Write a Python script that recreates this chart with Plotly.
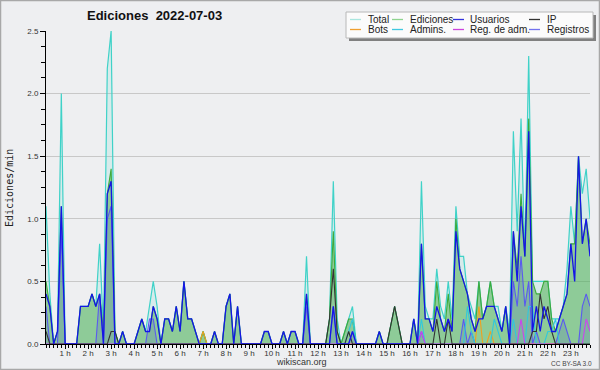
import plotly.graph_objects as go

# --- time grid (10-minute bins, minutes after midnight) ---
minutes = list(range(10, 1440, 10))
hour_ticks = list(range(60, 1440, 60))
hour_labels = [f"{h} h" for h in range(1, 24)]

# --- series values (edits per minute), one row per hour ---
total = [
    1.1, 0.4, 0.0, 0.1, 2.0,
    0.0, 0.0, 0.0, 0.0, 0.3, 0.3,
    0.3, 0.4, 0.3, 0.8, 0.1, 2.2,
    2.5, 0.1, 0.0, 0.1, 0.0, 0.0,
    0.0, 0.1, 0.2, 0.1, 0.3, 0.5,
    0.3, 0.0, 0.2, 0.2, 0.1, 0.3,
    0.1, 0.5, 0.2, 0.2, 0.1, 0.0,
    0.1, 0.0, 0.0, 0.1, 0.0, 0.0,
    0.3, 0.4, 0.0, 0.3, 0.0, 0.0,
    0.0, 0.0, 0.0, 0.0, 0.1, 0.1,
    0.0, 0.0, 0.0, 0.1, 0.0, 0.1,
    0.1, 0.0, 0.0, 0.7, 0.0, 0.0,
    0.0, 0.0, 0.0, 0.2, 1.3, 0.2,
    0.0, 0.1, 0.2, 0.3, 0.0, 0.0,
    0.0, 0.0, 0.0, 0.0, 0.1, 0.0,
    0.0, 0.15, 0.3, 0.15, 0.0, 0.0,
    0.0, 0.2, 0.0, 1.3, 0.3, 0.2,
    0.2, 0.6, 0.3, 0.2, 0.5, 0.2,
    1.1, 0.7, 0.7, 0.4, 0.3, 0.2,
    0.5, 0.2, 0.3, 0.5, 0.3, 0.3,
    0.1, 0.3, 0.1, 1.7, 0.9, 1.8,
    0.7, 2.3, 0.5, 0.5, 0.5, 0.5,
    0.5, 0.2, 0.2, 0.2, 0.3, 0.6,
    1.1, 0.8, 1.5, 1.2, 1.4, 1.0,
]
ediciones = [
    0.5, 0.3, 0.0, 0.1, 1.1,
    0.0, 0.0, 0.0, 0.0, 0.3, 0.3,
    0.3, 0.4, 0.3, 0.4, 0.1, 1.2,
    1.4, 0.1, 0.0, 0.1, 0.0, 0.0,
    0.0, 0.1, 0.2, 0.1, 0.1, 0.3,
    0.2, 0.0, 0.2, 0.2, 0.1, 0.3,
    0.1, 0.5, 0.2, 0.2, 0.1, 0.0,
    0.1, 0.0, 0.0, 0.1, 0.0, 0.0,
    0.3, 0.4, 0.0, 0.3, 0.0, 0.0,
    0.0, 0.0, 0.0, 0.0, 0.1, 0.1,
    0.0, 0.0, 0.0, 0.1, 0.0, 0.1,
    0.1, 0.0, 0.0, 0.4, 0.0, 0.0,
    0.0, 0.0, 0.0, 0.2, 0.9, 0.1,
    0.0, 0.1, 0.2, 0.2, 0.0, 0.0,
    0.0, 0.0, 0.0, 0.0, 0.1, 0.0,
    0.0, 0.15, 0.3, 0.15, 0.0, 0.0,
    0.0, 0.2, 0.0, 0.8, 0.2, 0.2,
    0.1, 0.5, 0.2, 0.1, 0.4, 0.1,
    1.0, 0.6, 0.5, 0.4, 0.2, 0.1,
    0.5, 0.2, 0.3, 0.5, 0.3, 0.2,
    0.1, 0.3, 0.0, 0.9, 0.6, 1.2,
    0.7, 1.8, 0.5, 0.4, 0.4, 0.5,
    0.5, 0.2, 0.1, 0.2, 0.3, 0.4,
    0.8, 0.8, 1.5, 0.8, 1.0, 0.8,
]
usuarios = [
    0.4, 0.3, 0.0, 0.1, 1.1,
    0.0, 0.0, 0.0, 0.0, 0.3, 0.3,
    0.3, 0.4, 0.3, 0.4, 0.0, 1.2,
    1.3, 0.0, 0.0, 0.1, 0.0, 0.0,
    0.0, 0.1, 0.2, 0.1, 0.1, 0.3,
    0.2, 0.0, 0.2, 0.2, 0.1, 0.3,
    0.1, 0.5, 0.2, 0.2, 0.1, 0.0,
    0.0, 0.0, 0.0, 0.1, 0.0, 0.0,
    0.3, 0.4, 0.0, 0.3, 0.0, 0.0,
    0.0, 0.0, 0.0, 0.0, 0.1, 0.1,
    0.0, 0.0, 0.0, 0.1, 0.0, 0.1,
    0.1, 0.0, 0.0, 0.4, 0.0, 0.0,
    0.0, 0.0, 0.0, 0.0, 0.3, 0.0,
    0.0, 0.0, 0.0, 0.1, 0.0, 0.0,
    0.0, 0.0, 0.0, 0.0, 0.1, 0.0,
    0.0, 0.0, 0.0, 0.0, 0.0, 0.0,
    0.0, 0.2, 0.0, 0.8, 0.2, 0.2,
    0.1, 0.3, 0.2, 0.1, 0.2, 0.1,
    0.9, 0.6, 0.5, 0.4, 0.2, 0.1,
    0.2, 0.2, 0.3, 0.3, 0.3, 0.2,
    0.1, 0.3, 0.0, 0.9, 0.5, 1.1,
    0.7, 1.7, 0.1, 0.3, 0.1, 0.3,
    0.2, 0.1, 0.1, 0.2, 0.3, 0.4,
    0.8, 0.5, 1.5, 0.8, 1.0, 0.7,
]
# sparse series: minute -> value (all other bins are 0)
ip = {10: 0.1, 180: 0.1, 190: 0.1, 750: 0.2, 760: 0.6, 770: 0.1, 800: 0.1,
      910: 0.15, 920: 0.3, 930: 0.15, 1030: 0.2, 1060: 0.2,
      1280: 0.1, 1290: 0.1, 1300: 0.4, 1310: 0.2, 1320: 0.3, 1330: 0.1}
bots = {420: 0.1, 1140: 0.3, 1170: 0.1}
admins = {800: 0.1, 810: 0.2, 990: 0.2, 1110: 0.3, 1120: 0.1, 1180: 0.2,
          1190: 0.1, 1230: 0.2, 1270: 0.3, 1280: 0.3, 1320: 0.1, 1330: 0.1,
          1340: 0.2}
reg_adm = {990: 0.1, 1250: 0.2, 1420: 0.2, 1430: 0.1}
registros = {10: 0.3, 50: 0.9, 150: 0.4, 170: 1.0, 180: 1.1, 280: 0.2,
             290: 0.2, 690: 0.3, 760: 0.3, 810: 0.1, 990: 0.1, 1100: 0.2,
             1120: 0.1, 1230: 0.5, 1240: 0.3, 1250: 0.7, 1260: 0.3,
             1270: 0.5, 1290: 0.1, 1350: 0.1, 1360: 0.2, 1370: 0.1,
             1410: 0.3, 1420: 0.4, 1430: 0.3}

series_names = ["Total", "Ediciones", "Usuarios", "IP",
                "Bots", "Admins.", "Reg. de adm.", "Registros"]
legend_colors = ["#a9e6df", "#8fd48f", "#3333dd", "#333333",
                 "#f0a030", "#40c8e0", "#cc44dd", "#7272ee"]


def expand(d):
    return [d.get(m, 0.0) for m in minutes]


BG = "#eeeff1"
fig = go.Figure()

# Total: pale fill + turquoise line
fig.add_trace(go.Scatter(x=minutes, y=total, name="Total", mode="lines",
                         fill="tozeroy", fillcolor="rgba(64,208,200,0.13)",
                         line=dict(color="#3fd2c8", width=1.2)))
# Ediciones: green fill
fig.add_trace(go.Scatter(x=minutes, y=ediciones, name="Ediciones", mode="lines",
                         fill="tozeroy", fillcolor="rgba(70,172,70,0.5)",
                         line=dict(color="#3caa3c", width=1.1)))
# Registros: translucent blue fill
fig.add_trace(go.Scatter(x=minutes, y=expand(registros), name="Registros",
                         mode="lines", fill="tozeroy",
                         fillcolor="rgba(40,40,220,0.13)",
                         line=dict(color="#5a5af0", width=1.1)))
fig.add_trace(go.Scatter(x=minutes, y=expand(bots), name="Bots", mode="lines",
                         line=dict(color="#f0a020", width=1.1)))
fig.add_trace(go.Scatter(x=minutes, y=expand(admins), name="Admins.",
                         mode="lines", line=dict(color="#30c8dc", width=1.1)))
fig.add_trace(go.Scatter(x=minutes, y=expand(reg_adm), name="Reg. de adm.",
                         mode="lines", line=dict(color="#cc44ee", width=1.1)))
fig.add_trace(go.Scatter(x=minutes, y=expand(ip), name="IP", mode="lines",
                         line=dict(color="#333333", width=1.1)))
fig.add_trace(go.Scatter(x=minutes, y=usuarios, name="Usuarios", mode="lines",
                         line=dict(color="#1515e6", width=1.3)))

# pixel helpers for decorations (plot area 46..590 x 31..344)
L, R, T, B = 46, 590, 31, 344


def px(x):
    return (x - L) / (R - L)


def py(y):
    return (B - y) / (B - T)


shapes = []
annotations = []

# outer border
shapes.append(dict(type="rect", xref="paper", yref="paper",
                   x0=px(0.5), x1=px(599.5), y0=py(369.5), y1=py(0.5),
                   line=dict(color="#a8a8a8", width=1.5), layer="below"))
# legend shadow + box
shapes.append(dict(type="rect", xref="paper", yref="paper",
                   x0=px(349), x1=px(596), y0=py(41), y1=py(15),
                   fillcolor="#808080", line=dict(width=0)))
shapes.append(dict(type="rect", xref="paper", yref="paper",
                   x0=px(346), x1=px(593), y0=py(38), y1=py(12),
                   fillcolor="#fbfbfb", line=dict(color="#b8b8b8", width=1)))

col_line_x = [350, 392, 453, 529]
col_text_x = [366, 408, 468, 545]
row_y = [19.5, 29.5]
for k, (name, color) in enumerate(zip(series_names, legend_colors)):
    r, c = divmod(k, 4)
    shapes.append(dict(type="line", xref="paper", yref="paper",
                       x0=px(col_line_x[c]), x1=px(col_line_x[c] + 11),
                       y0=py(row_y[r]), y1=py(row_y[r]),
                       line=dict(color=color, width=1.3)))
    annotations.append(dict(text=name, xref="paper", yref="paper",
                            x=px(col_text_x[c]), y=py(row_y[r]),
                            xanchor="left", yanchor="middle", showarrow=False,
                            font=dict(family="Liberation Sans, Arial", size=10,
                                      color="#222222")))

annotations += [
    dict(text="<b>Ediciones  2022-07-03</b>", xref="paper", yref="paper",
         x=px(154), y=py(16), xanchor="center", yanchor="middle",
         showarrow=False,
         font=dict(family="Liberation Sans, Arial", size=13, color="#111111")),
    dict(text="Ediciones/min", xref="paper", yref="paper", x=px(9),
         y=py(188), xanchor="center", yanchor="middle", textangle=-90,
         showarrow=False,
         font=dict(family="DejaVu Sans Mono", size=10, color="#222222")),
    dict(text="wikiscan.org", xref="paper", yref="paper", x=px(301),
         y=py(362), xanchor="center", yanchor="middle", showarrow=False,
         font=dict(family="Liberation Sans, Arial", size=9, color="#333333")),
    dict(text="CC BY-SA 3.0", xref="paper", yref="paper", x=px(571),
         y=py(363), xanchor="center", yanchor="middle", showarrow=False,
         font=dict(family="Liberation Sans, Arial", size=6.5, color="#444444")),
]

tickfont = dict(family="Liberation Sans, Arial", size=8, color="#333333")
fig.update_layout(
    width=600, height=370,
    margin=dict(l=L, r=600 - R, t=T, b=370 - B),
    paper_bgcolor=BG, plot_bgcolor=BG,
    showlegend=False,
    shapes=shapes, annotations=annotations,
    xaxis=dict(range=[10, 1430], tickmode="array", tickvals=hour_ticks,
               ticktext=hour_labels, ticks="outside", ticklen=4,
               tickcolor="black", tickwidth=1, showline=True,
               linecolor="black", linewidth=1, showgrid=False, zeroline=False,
               tickfont=tickfont, ticklabelstandoff=-3,
               minor=dict(ticks="outside", tickmode="linear", tick0=0,
                          dtick=10, ticklen=3, tickcolor="black")),
    yaxis=dict(range=[0, 2.5], tickmode="linear", tick0=0, dtick=0.5,
               tickformat=".1f", ticks="outside", ticklen=5,
               tickcolor="black", showline=True, linecolor="black",
               linewidth=1, showgrid=True, gridcolor="#c8c8c8", gridwidth=1,
               zeroline=False, tickfont=tickfont,
               minor=dict(ticks="outside", tickmode="linear", tick0=0,
                          dtick=0.125, ticklen=4, tickcolor="black",
                          showgrid=False)),
)

fig.write_html("out.html", config={"displayModeBar": False},
               post_script="document.body.style.margin='0';"
                           "document.body.style.overflow='hidden';")
